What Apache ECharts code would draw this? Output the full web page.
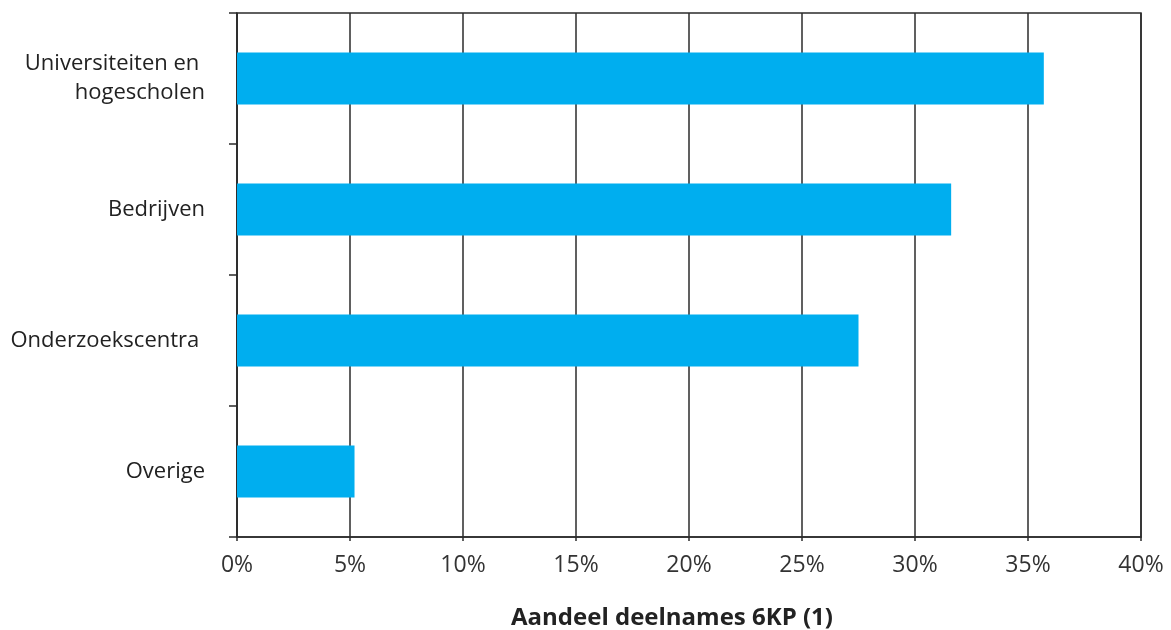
<!DOCTYPE html>
<html>
<head>
<meta charset="utf-8">
<script src="https://cdn.jsdelivr.net/npm/echarts@6/dist/echarts.min.js"></script>
<style>
html,body{margin:0;padding:0;background:#fff;}
#chart{width:1171px;height:630px;}
</style>
</head>
<body>
<div id="chart"></div>
<script>
const categories = ['Universiteiten en \nhogescholen', 'Bedrijven', 'Onderzoekscentra ', 'Overige'];
const shares = [35.7, 31.6, 27.5, 5.2];
const xTicks = [0, 5, 10, 15, 20, 25, 30, 35, 40];
const axisTitle = 'Aandeel deelnames 6KP (1)';

const chart = echarts.init(document.getElementById('chart'));
const lineColor = '#2b2b2b';
const font = '"Open Sans", Lato, sans-serif';
chart.setOption({
  animation: false,
  grid: {left: 237, right: 30, top: 13, bottom: 93, show: true, borderColor: lineColor, borderWidth: 1.5, backgroundColor: 'transparent'},
  title: {
    text: axisTitle, left: 667, top: 601, textAlign: 'center',
    textStyle: {fontFamily: font, fontSize: 24, fontWeight: 'bold', color: '#222'}
  },
  xAxis: {
    type: 'value', min: xTicks[0], max: xTicks[xTicks.length - 1], interval: 5,
    axisLine: {show: true, lineStyle: {color: lineColor, width: 1.5}},
    axisTick: {show: true, length: 4, lineStyle: {color: lineColor, width: 1.5}},
    splitLine: {show: true, lineStyle: {color: lineColor, width: 1.5}},
    axisLabel: {formatter: '{value}%', fontFamily: font, fontSize: 23, color: '#333', margin: 17}
  },
  yAxis: {
    type: 'category', data: categories, inverse: true,
    axisLine: {show: true, lineStyle: {color: lineColor, width: 1.5}},
    axisTick: {show: true, length: 8, lineStyle: {color: lineColor, width: 1.5}},
    axisLabel: {fontFamily: font, fontSize: 22, color: '#222', margin: 32, lineHeight: 29, align: 'right'}
  },
  series: [{
    type: 'bar', data: shares, barWidth: 52,
    itemStyle: {color: '#00AEEF'}
  }]
});
</script>
</body>
</html>
